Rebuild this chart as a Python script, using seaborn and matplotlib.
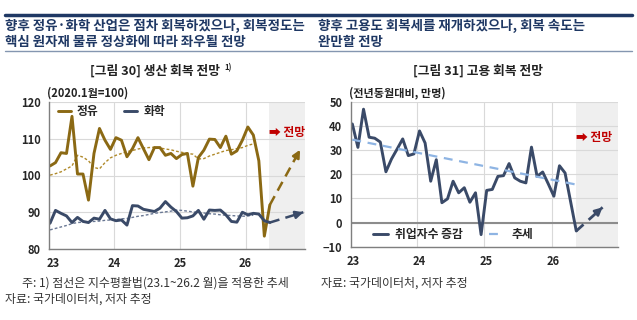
import numpy as np
import pandas as pd
import seaborn as sns
from matplotlib import pyplot as plt
from matplotlib.lines import Line2D

# ---- data (monthly, index 0 = 2023.1, index 40 = 2026.5) ----
oil = [102.6, 103.5, 106.2, 106.0, 116.1, 100.4, 100.4, 93.3, 106.0, 112.8, 109.6, 107.1,
       110.3, 109.6, 105.1, 107.3, 110.3, 107.3, 104.3, 107.6, 107.6, 105.5, 106.0, 104.6,
       105.7, 106.0, 97.1, 104.9, 106.9, 109.9, 109.8, 107.6, 110.7, 105.8, 106.7, 109.6,
       113.2, 111.0, 104.0, 83.5, 92.0]
chem = [87.0, 90.5, 89.7, 89.0, 87.2, 88.6, 87.5, 87.2, 88.4, 88.1, 90.5, 88.2,
        87.7, 87.9, 86.5, 91.8, 91.7, 90.8, 90.5, 90.2, 91.1, 92.9, 91.4, 90.2,
        88.4, 88.5, 89.0, 90.5, 88.1, 90.6, 90.5, 90.6, 89.3, 87.5, 87.3, 90.0,
        89.3, 89.7, 89.5, 87.7, 87.2]
# exponential smoothing trend (23.1 ~ 26.2)
oil_trend = [100.1, 100.5, 101.0, 101.8, 102.6, 105.5, 105.0, 104.0, 102.2, 101.8, 103.5, 104.8,
             105.5, 106.0, 106.5, 106.8, 107.2, 107.5, 107.6, 107.7, 107.5, 107.2, 107.0, 106.6,
             106.3, 106.0, 105.8, 104.5, 104.6, 105.3, 105.8, 106.3, 106.8, 107.0, 107.3, 107.6,
             108.2, 108.6]
chem_trend = [85.2, 85.6, 86.0, 86.4, 86.9, 87.2, 87.3, 87.4, 87.5, 87.6, 87.8, 87.9,
              88.0, 88.2, 88.3, 88.6, 88.9, 89.1, 89.4, 89.7, 89.9, 90.1, 90.3, 90.6,
              90.5, 90.3, 90.1, 89.9, 89.8, 89.6, 89.5, 89.3, 89.2, 89.1, 89.0, 88.9,
              89.0, 89.2]
oil_fcst_x = [40, 45.5]
oil_fcst = [92.0, 107.0]
chem_fcst_x = [40, 46.1]
chem_fcst = [87.2, 90.0]

emp = [40.8, 31.1, 46.9, 35.3, 34.9, 33.3, 21.0, 26.3, 30.4, 34.6, 27.7, 28.4,
       37.9, 32.9, 17.1, 26.0, 8.2, 9.8, 17.1, 12.3, 14.4, 8.4, 12.3, -5.0,
       13.3, 13.7, 19.1, 19.4, 24.4, 18.5, 17.1, 16.4, 31.2, 19.1, 20.9, 16.0,
       10.9, 23.5, 20.5, 8.5, -3.5]
emp_trend_x = [0, 40]
emp_trend = [34.3, 15.7]
emp_fcst_x = [40, 44.7]
emp_fcst = [-3.5, 6.3]

year_labels = ["23", "24", "25", "26"]

GOLD = "#8B6914"
NAVY = "#3A4A68"
NAVY_HDR = "#1F3864"
RED = "#C00000"
GRID = "#D9D9D9"
SHADE = "#EFEFEF"

sns.set_style("white")
plt.rcParams["font.family"] = ["Noto Sans CJK KR", "DejaVu Sans"]

fig = plt.figure(figsize=(6.37, 3.2), dpi=100)


def px(x, y):
    return x / 637, 1 - y / 320


# ---- header ----
fig.add_artist(Line2D([5 / 637, 632 / 637], [px(0, 15)[1]] * 2, color=NAVY_HDR, lw=2.5))
fig.add_artist(Line2D([5 / 637, 632 / 637], [px(0, 51)[1]] * 2, color="#8496B0", lw=1))
hdr = dict(fontsize=9.7, fontweight="bold", color=NAVY_HDR, va="center", ha="left")
fig.text(*px(5, 26), "향후 정유·화학 산업은 점차 회복하겠으나, 회복정도는", **hdr)
fig.text(*px(5, 42), "핵심 원자재 물류 정상화에 따라 좌우될 전망", **hdr)
fig.text(*px(318, 26), "향후 고용도 회복세를 재개하겠으나, 회복 속도는", **hdr)
fig.text(*px(318, 42), "완만할 전망", **hdr)

ttl = dict(fontsize=9.2, fontweight="bold", color="#222222", va="center", ha="center")
fig.text(*px(155, 71), "[그림 30] 생산 회복 전망", **ttl)
fig.text(*px(224, 68), "1)", fontsize=5.5, fontweight="bold", color="#222222", va="center")
fig.text(*px(478, 71), "[그림 31] 고용 회복 전망", **ttl)

unit = dict(fontsize=8, fontweight="bold", color="#222222", va="center", ha="left")
fig.text(*px(47, 93), "(2020.1월=100)", **unit)
fig.text(*px(349, 93), "(전년동월대비, 만명)", **unit)

foot = dict(fontsize=8.6, color="#333333", va="center", ha="left")
fig.text(*px(22, 283), "주: 1) 점선은 지수평활법(23.1~26.2 월)을 적용한 추세", **foot)
fig.text(*px(5, 299), "자료: 국가데이터처, 저자 추정", **foot)
fig.text(*px(321, 283), "자료: 국가데이터처, 저자 추정", **foot)


def style_axis(ax, xlim, ylim, yticks, vgrid, xticks):
    ax.set_xlim(*xlim)
    ax.set_ylim(*ylim)
    ax.set_yticks(yticks)
    ax.set_xticks(xticks)
    ax.set_xticklabels(year_labels)
    for yv in yticks:
        ax.axhline(yv, color=GRID, lw=0.8, zorder=0)
    for xv in vgrid:
        ax.axvline(xv, color=GRID, lw=0.8, zorder=0)
    for s in ["top", "right"]:
        ax.spines[s].set_visible(False)
    for s in ["left", "bottom"]:
        ax.spines[s].set_color("#7F7F7F")
        ax.spines[s].set_linewidth(1)
    ax.tick_params(length=0, labelsize=8, pad=6)
    for lab in ax.get_xticklabels() + ax.get_yticklabels():
        lab.set_fontweight("bold")
    ax.set_xlabel("")
    ax.set_ylabel("")


def arrow_head(ax, xs, ys, color):
    ax.annotate("", xy=(xs[1], ys[1]),
                xytext=(xs[1] - (xs[1] - xs[0]) * 0.15, ys[1] - (ys[1] - ys[0]) * 0.15),
                arrowprops=dict(arrowstyle="-|>", color=color, lw=1.8,
                                mutation_scale=11, shrinkA=0, shrinkB=0))


# ---- left: production ----
ax1 = fig.add_axes([49.3 / 637, 1 - 249 / 320, (305 - 49.3) / 637, (249 - 102) / 320])
ax1.axvspan(39.9, 46.4, color=SHADE, lw=0, zorder=0)
df_prod = pd.DataFrame({"m": np.arange(len(oil)), "정유": oil, "화학": chem})
df_tr = pd.DataFrame({"m": np.arange(len(oil_trend)), "oil": oil_trend, "chem": chem_trend})
sns.lineplot(data=df_tr, x="m", y="oil", ax=ax1, color="#B08A2A", lw=1, ls=(0, (2, 1.5)))
sns.lineplot(data=df_tr, x="m", y="chem", ax=ax1, color="#6A7894", lw=1, ls=(0, (2, 1.5)))
sns.lineplot(data=df_prod, x="m", y="정유", ax=ax1, color=GOLD, lw=2.1, label="정유")
sns.lineplot(data=df_prod, x="m", y="화학", ax=ax1, color=NAVY, lw=2.1, label="화학")
sns.lineplot(x=oil_fcst_x, y=oil_fcst, ax=ax1, color=GOLD, lw=1.8, ls=(0, (4, 2.5)))
sns.lineplot(x=chem_fcst_x, y=chem_fcst, ax=ax1, color=NAVY, lw=1.8, ls=(0, (4, 2.5)))
arrow_head(ax1, oil_fcst_x, oil_fcst, GOLD)
arrow_head(ax1, chem_fcst_x, chem_fcst, NAVY)
style_axis(ax1, (-0.13, 46.4), (80, 120), [80, 90, 100, 110, 120],
           [11.6, 23.6, 35.6], [0.6, 11.6, 23.6, 35.6])
ax1.legend(loc="upper left", ncol=2, frameon=False, handlelength=1.1,
           handletextpad=0.5, columnspacing=2.2, borderaxespad=0.1,
           bbox_to_anchor=(0.01, 1.02), prop={"weight": "bold", "size": 8.5})
ax1.text(0.86, 0.79, "➡ 전망", transform=ax1.transAxes, color=RED, fontsize=8.5,
         fontweight="bold", ha="left", va="center")

# ---- right: employment ----
ax2 = fig.add_axes([350.7 / 637, 1 - 246.7 / 320, (617.7 - 350.7) / 637, (246.7 - 101.7) / 320])
ax2.axvspan(39.95, 47.4, color=SHADE, lw=0, zorder=0)
df_emp = pd.DataFrame({"m": np.arange(len(emp)), "emp": emp})
sns.lineplot(data=df_emp, x="m", y="emp", ax=ax2, color=NAVY, lw=2.1, label="취업자수 증감")
sns.lineplot(x=emp_trend_x, y=emp_trend, ax=ax2, color="#8EB4E3", lw=1.6,
             ls=(0, (4, 3)), label="추세")
sns.lineplot(x=emp_fcst_x, y=emp_fcst, ax=ax2, color=NAVY, lw=2, ls=(0, (3.5, 2.5)))
arrow_head(ax2, emp_fcst_x, emp_fcst, NAVY)
style_axis(ax2, (-0.29, 47.4), (-10, 50), [-10, 0, 10, 20, 30, 40, 50],
           [11.6, 23.6, 35.6], [0.2, 11.9, 23.9, 35.9])
ax2.axhline(0, color="#8C8C8C", lw=1.5, zorder=1)
ax2.legend(loc="lower left", ncol=2, frameon=False, handlelength=1.3,
           handletextpad=0.6, columnspacing=2.2, borderaxespad=0.1,
           bbox_to_anchor=(0.06, 0.0), prop={"weight": "bold", "size": 8.5})
ax2.text(0.845, 0.75, "➡ 전망", transform=ax2.transAxes, color=RED, fontsize=8.5,
         fontweight="bold", ha="left", va="center")

fig.savefig("out.png", dpi=100)
